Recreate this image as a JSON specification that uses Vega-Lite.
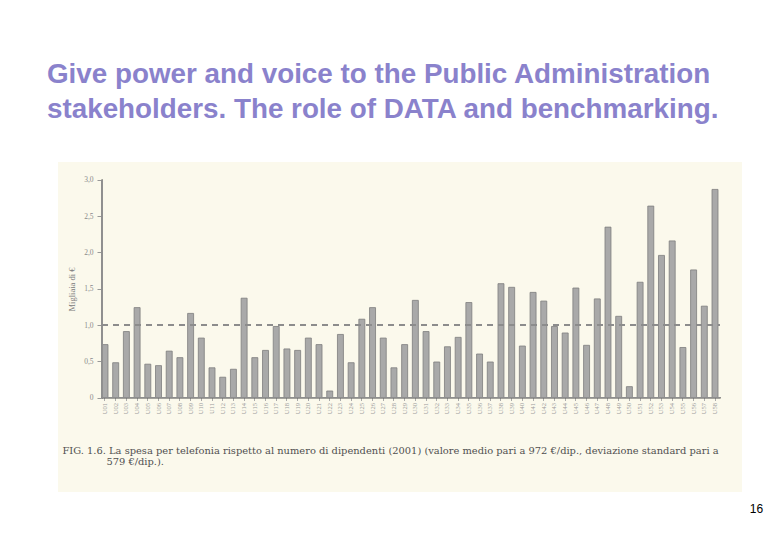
{
  "$schema": "https://vega.github.io/schema/vega-lite/v6.json",
  "width": 684,
  "height": 330,
  "autosize": {"type": "none"},
  "padding": {"left": 58, "top": 162, "right": 38, "bottom": 48},
  "background": "#ffffff",
  "config": {
    "view": {"fill": "#fbf9ec", "stroke": null},
    "axis": {"grid": false}
  },
  "title": {
    "text": ["Give power and voice to the Public Administration", "stakeholders. The role of DATA and benchmarking."],
    "anchor": "start",
    "frame": "group",
    "dx": -11,
    "offset": 38,
    "font": "Liberation Sans",
    "fontSize": 27.8,
    "fontWeight": "bold",
    "color": "#8a82cc",
    "lineHeight": 35
  },
  "data": {
    "values": [
      {"unit": "U01", "value": 0.73}, {"unit": "U02", "value": 0.48}, {"unit": "U03", "value": 0.91},
      {"unit": "U04", "value": 1.24}, {"unit": "U05", "value": 0.46}, {"unit": "U06", "value": 0.44},
      {"unit": "U07", "value": 0.64}, {"unit": "U08", "value": 0.55}, {"unit": "U09", "value": 1.16},
      {"unit": "U10", "value": 0.82}, {"unit": "U11", "value": 0.41}, {"unit": "U12", "value": 0.28},
      {"unit": "U13", "value": 0.39}, {"unit": "U14", "value": 1.37}, {"unit": "U15", "value": 0.55},
      {"unit": "U16", "value": 0.65}, {"unit": "U17", "value": 0.98}, {"unit": "U18", "value": 0.67},
      {"unit": "U19", "value": 0.65}, {"unit": "U20", "value": 0.82}, {"unit": "U21", "value": 0.73},
      {"unit": "U22", "value": 0.09}, {"unit": "U23", "value": 0.87}, {"unit": "U24", "value": 0.48},
      {"unit": "U25", "value": 1.08}, {"unit": "U26", "value": 1.24}, {"unit": "U27", "value": 0.82},
      {"unit": "U28", "value": 0.41}, {"unit": "U29", "value": 0.73}, {"unit": "U30", "value": 1.34},
      {"unit": "U31", "value": 0.91}, {"unit": "U32", "value": 0.49}, {"unit": "U33", "value": 0.70},
      {"unit": "U34", "value": 0.83}, {"unit": "U35", "value": 1.31}, {"unit": "U36", "value": 0.60},
      {"unit": "U37", "value": 0.49}, {"unit": "U38", "value": 1.57}, {"unit": "U39", "value": 1.52},
      {"unit": "U40", "value": 0.71}, {"unit": "U41", "value": 1.45}, {"unit": "U42", "value": 1.33},
      {"unit": "U43", "value": 0.98}, {"unit": "U44", "value": 0.89}, {"unit": "U45", "value": 1.51},
      {"unit": "U46", "value": 0.72}, {"unit": "U47", "value": 1.36}, {"unit": "U48", "value": 2.35},
      {"unit": "U49", "value": 1.12}, {"unit": "U50", "value": 0.15}, {"unit": "U51", "value": 1.59},
      {"unit": "U52", "value": 2.64}, {"unit": "U53", "value": 1.96}, {"unit": "U54", "value": 2.16},
      {"unit": "U55", "value": 0.69}, {"unit": "U56", "value": 1.76}, {"unit": "U57", "value": 1.26},
      {"unit": "U58", "value": 2.87}
    ]
  },
  "resolve": {"scale": {"y": "independent"}, "axis": {"y": "independent"}},
  "layer": [
    {
      "mark": {"type": "bar", "fill": "#a9a9a9", "stroke": "#7d7d7d", "strokeWidth": 0.8},
      "encoding": {
        "x": {
          "field": "unit",
          "type": "nominal",
          "sort": null,
          "scale": {"range": [44, 660], "paddingInner": 0.44, "paddingOuter": 0},
          "axis": {
            "orient": "bottom",
            "offset": -94.5,
            "domain": false,
            "labelAngle": -90,
            "labelFont": "Liberation Serif",
            "labelFontSize": 6.5,
            "labelColor": "#9a9a9a",
            "labelPadding": 2,
            "tickSize": 3,
            "tickColor": "#aaaaaa",
            "title": ["FIG. 1.6. La spesa per telefonia rispetto al numero di dipendenti (2001) (valore medio pari a 972 €/dip., deviazione standard pari a", "\u200b\u00a0\u00a0\u00a0\u00a0\u00a0\u00a0\u00a0\u00a0\u00a0\u00a0\u00a0\u00a0\u00a0\u00a0579 €/dip.)."],
            "titleFont": "DejaVu Serif",
            "titleFontSize": 9.9,
            "titleFontWeight": "normal",
            "titleColor": "#505050",
            "titleAlign": "left",
            "titleAnchor": "start",
            "titleBaseline": "alphabetic",
            "titleX": 4,
            "titleY": 56,
            "titleLineHeight": 11
          }
        },
        "y": {
          "field": "value",
          "type": "quantitative",
          "scale": {"domain": [-1.303, 3.248], "nice": false, "zero": false},
          "axis": {
            "orient": "left",
            "offset": -44,
            "domain": false,
            "values": [0, 0.5, 1, 1.5, 2, 2.5, 3],
            "labelExpr": "datum.value == 0 ? '0' : replace(format(datum.value, '.1f'), '.', ',')",
            "labelFont": "Liberation Serif",
            "labelFontSize": 7.5,
            "labelColor": "#8a8a8a",
            "labelPadding": 4,
            "tickSize": 5,
            "tickColor": "#999999",
            "title": "Migliaia di €",
            "titleFont": "Liberation Serif",
            "titleFontSize": 8.5,
            "titleFontWeight": "normal",
            "titleColor": "#7a7a7a",
            "titlePadding": 7,
            "titleY": 127
          }
        },
        "y2": {"datum": 0}
      }
    },
    {
      "mark": {"type": "rule", "color": "#8f8f8f", "strokeWidth": 1},
      "encoding": {
        "x": {"datum": "U01", "type": "nominal", "bandPosition": 0},
        "y": {"datum": 0, "type": "quantitative", "scale": {"domain": [-1.303, 3.248], "nice": false, "zero": false}, "axis": null},
        "y2": {"datum": 3}
      }
    },
    {
      "mark": {"type": "rule", "color": "#8f8f8f", "strokeWidth": 1},
      "encoding": {
        "x": {"datum": "U01", "type": "nominal", "bandPosition": 0},
        "x2": {"datum": "U58", "bandPosition": 1.5},
        "y": {"datum": 0, "type": "quantitative", "scale": {"domain": [-1.303, 3.248], "nice": false, "zero": false}, "axis": null}
      }
    },
    {
      "mark": {"type": "rule", "color": "#8c8c8c", "strokeWidth": 1.3, "strokeDash": [6, 5]},
      "encoding": {
        "x": {"datum": "U01", "type": "nominal", "bandPosition": 0},
        "x2": {"datum": "U58", "bandPosition": 1.3},
        "y": {
          "datum": 1,
          "type": "quantitative",
          "scale": {"domain": [-1.303, 3.248], "nice": false, "zero": false},
          "axis": {
            "orient": "right",
            "domain": false,
            "ticks": false,
            "labels": false,
            "title": "16",
            "titleAngle": 0,
            "titleFont": "Liberation Sans",
            "titleFontSize": 12,
            "titleFontWeight": "normal",
            "titleColor": "#000000",
            "titleAlign": "center",
            "titleBaseline": "alphabetic",
            "titleX": 14,
            "titleY": 350
          }
        }
      }
    }
  ]
}
